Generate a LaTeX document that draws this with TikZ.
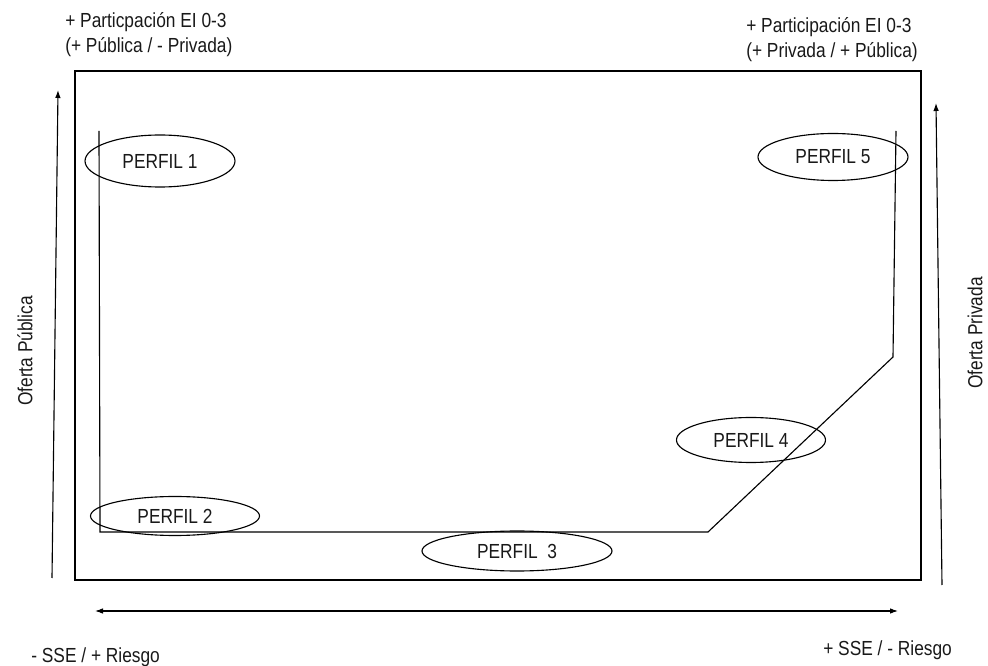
\documentclass[tikz,border=0pt]{standalone}
\usepackage{fontspec}
\setmainfont[FakeStretch=0.85]{Liberation Sans}
\usepackage{tikz}
\usetikzlibrary{arrows.meta,positioning,shapes.geometric}

\begin{document}
\begin{tikzpicture}[
        perfil/.style={draw, ellipse, inner sep=0pt, line width=0.8pt},
        axis/.style={line width=0.8pt},
        lbl/.style={font=\fontsize{14.5}{17.8}\selectfont, inner sep=0pt, text=black!90},
        >={Latex[length=2mm,width=1.4mm]}
    ]
        \useasboundingbox (0,0) rectangle (24.7,16.65);
        % marco
        \draw[axis] (1.875,2.15) rectangle (23.025,14.875);
        % ejes
        \coordinate (ypub0) at (1.3,2.2);
        \coordinate (ypub1) at (1.45,14.4);
        \coordinate (ypriv0) at (23.55,2.025);
        \coordinate (ypriv1) at (23.4,14.075);
        \coordinate (xl) at (2.375,1.375);
        \coordinate (xr) at (22.45,1.375);
        \draw[axis,->] (ypub0) -- (ypub1);
        \draw[axis,->] (ypriv0) -- (ypriv1);
        \draw[axis,<->] (xl) -- (xr);
        % recorrido
        \coordinate (c1) at (2.475,13.375);
        \coordinate (c2) at (2.5,3.35);
        \coordinate (c3) at (17.7,3.35);
        \coordinate (c4) at (22.325,7.725);
        \coordinate (c5) at (22.4,13.375);
        \draw[axis] (c1) -- (c2) -- (c3) -- (c4) -- (c5);
        % perfiles
        \node[perfil, minimum width=3.75cm, minimum height=1.3cm, lbl] (p1) at (4.0,12.625) {PERFIL 1};
        \node[perfil, minimum width=4.225cm, minimum height=0.975cm, lbl] (p2) at (4.375,3.75) {PERFIL 2};
        \node[perfil, minimum width=4.75cm, minimum height=1.0cm, lbl] (p3) at (12.925,2.875) {PERFIL\ \ 3};
        \node[perfil, minimum width=3.725cm, minimum height=1.125cm, lbl] (p4) at (18.775,5.65) {PERFIL 4};
        \node[perfil, minimum width=3.75cm, minimum height=1.175cm, lbl] (p5) at (20.825,12.725) {PERFIL 5};
        % etiquetas
        \node[lbl, anchor=west, align=left] (tl) at (1.625,15.79) {+ Particpación EI 0-3\\(+ Pública / - Privada)};
        \node[lbl, anchor=west, align=left] (tr) at (18.65,15.66) {+ Participación EI 0-3\\(+ Privada / + Pública)};
        \node[lbl] (bl) at (2.39,0.225) {- SSE / + Riesgo};
        \node[lbl] (br) at (22.19,0.4) {+ SSE / - Riesgo};
        \node[lbl, rotate=90] (opub) at (0.625,7.875) {Oferta Pública};
        \node[lbl, rotate=90] (opriv) at (24.375,8.325) {Oferta Privada};
    \end{tikzpicture}
\end{document}
